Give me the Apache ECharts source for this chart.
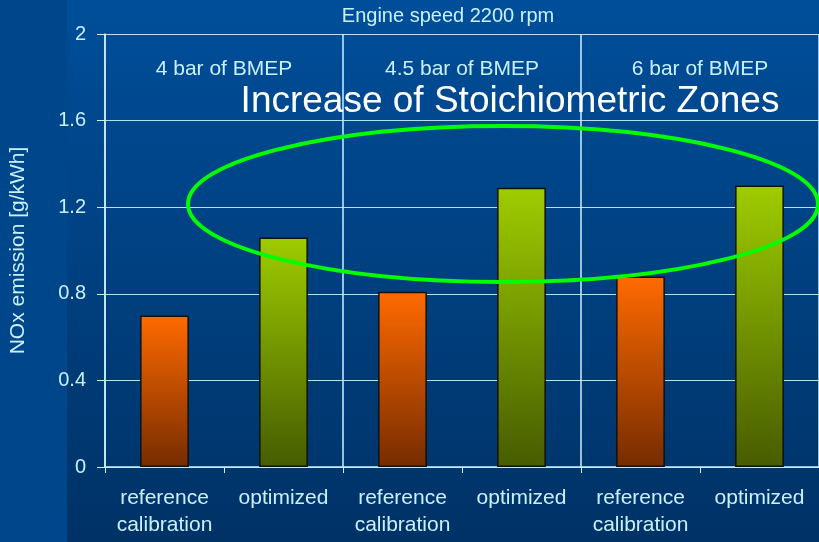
<!DOCTYPE html>
<html>
<head>
<meta charset="utf-8">
<script src="https://cdn.jsdelivr.net/npm/echarts@6/dist/echarts.min.js"></script>
<style>
  html, body { margin: 0; padding: 0; background: #00468a; }
  #chart { width: 819px; height: 542px; }
</style>
</head>
<body>
<div id="chart"></div>
<script>
// data
var categories = ['reference\ncalibration', 'optimized', 'reference\ncalibration', 'optimized', 'reference\ncalibration', 'optimized'];
var noxValues = [0.70, 1.06, 0.81, 1.29, 0.88, 1.30];
var groupLabels = ['4 bar of BMEP', '4.5 bar of BMEP', '6 bar of BMEP'];
var yTicks = [0, 0.4, 0.8, 1.2, 1.6, 2];

var txt = '#c8f0ff';
var font = 'Liberation Sans, Arial, sans-serif';

var orange = new echarts.graphic.LinearGradient(0, 0, 0, 1, [
    {offset: 0, color: '#ff6a00'},
    {offset: 1, color: '#762c00'}
]);
var green = new echarts.graphic.LinearGradient(0, 0, 0, 1, [
    {offset: 0, color: '#9fcc00'},
    {offset: 1, color: '#465c00'}
]);

var chart = echarts.init(document.getElementById('chart'));

var option = {
    backgroundColor: '#00468a',
    animation: false,
    textStyle: {fontFamily: font},
    graphic: [
        {
            type: 'rect',
            z: -10,
            silent: true,
            shape: {x: 67, y: 0, width: 752, height: 542},
            style: {
                fill: new echarts.graphic.LinearGradient(0, 0, 0, 1, [
                    {offset: 0, color: '#004e9a'},
                    {offset: 1, color: '#003266'}
                ])
            }
        },
        {
            type: 'text',
            x: 448, y: 16,
            style: {text: 'Engine speed 2200 rpm', fill: txt, fontSize: 20, fontFamily: font,
                align: 'center', verticalAlign: 'middle'}
        },
        {
            type: 'ellipse',
            x: 503, y: 204,
            z: 20,
            silent: true,
            shape: {cx: 0, cy: 0, rx: 315, ry: 78},
            style: {fill: 'none', stroke: '#00ff00', lineWidth: 4}
        },
        {
            type: 'text',
            x: 510, y: 102,
            z: 21,
            style: {text: 'Increase of Stoichiometric Zones', fill: '#ffffff', fontSize: 37, fontFamily: font,
                align: 'center', verticalAlign: 'middle'}
        }
    ],
    grid: {left: 105, right: 0, top: 34, bottom: 75, outerBoundsMode: 'none', containLabel: false},
    xAxis: [
        {
            type: 'category',
            data: categories,
            axisLine: {lineStyle: {color: txt, width: 1.5}},
            axisTick: {show: true, length: 6, lineStyle: {color: txt}},
            axisLabel: {color: txt, fontSize: 21, lineHeight: 27, margin: 18, interval: 0},
            splitLine: {show: false}
        },
        {
            // group separators and group names
            type: 'category',
            data: groupLabels,
            position: 'top',
            axisLine: {show: false},
            axisTick: {show: false},
            axisLabel: {color: txt, fontSize: 21, inside: true, margin: 25, interval: 0},
            splitLine: {show: true, lineStyle: {color: txt, width: 1.5}}
        }
    ],
    yAxis: {
        type: 'value',
        min: 0,
        max: 2,
        interval: 0.4,
        name: 'NOx emission [g/kWh]',
        nameLocation: 'middle',
        nameGap: 76,
        nameTextStyle: {color: txt, fontSize: 21},
        axisLine: {show: true, lineStyle: {color: txt, width: 1.5}},
        axisTick: {show: true, length: 8, lineStyle: {color: txt}},
        axisLabel: {color: txt, fontSize: 20, margin: 19, formatter: function (v) {
            var t = yTicks.find(function (y) { return Math.abs(y - v) < 1e-6; });
            return t === undefined ? '' : String(t);
        }},
        splitLine: {show: true, lineStyle: {color: '#b8e0f0', width: 1.2}}
    },
    series: [{
        type: 'bar',
        data: noxValues.map(function (v, i) {
            return {value: v, itemStyle: {color: i % 2 === 0 ? orange : green}};
        }),
        barWidth: '41%',
        itemStyle: {borderColor: '#111', borderWidth: 1.5}
    }]
};

chart.setOption(option);
</script>
</body>
</html>
